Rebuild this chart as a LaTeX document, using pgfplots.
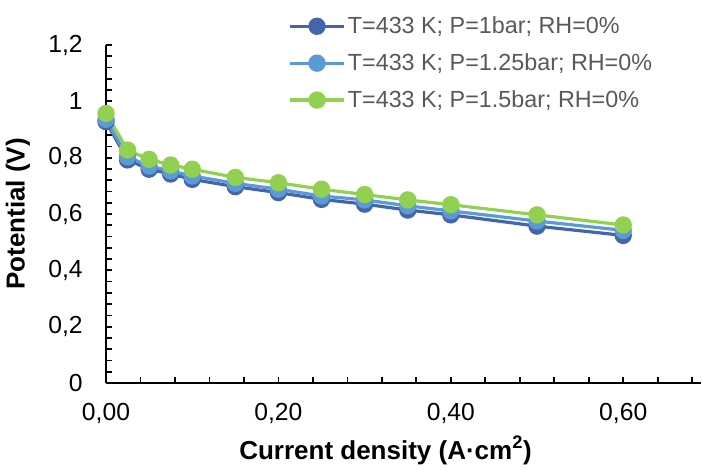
\documentclass[border=0pt]{standalone}
\usepackage{pgfplots}
\pgfplotsset{compat=1.18}
\usepackage{fontspec}
\setmainfont{Liberation Sans}
\definecolor{dblue}{HTML}{4464AD}
\definecolor{lblue}{HTML}{5B9BD5}
\definecolor{lgreen}{HTML}{92D050}
\definecolor{legtext}{HTML}{595959}
\begin{document}
\begin{tikzpicture}
\begin{axis}[
  at={(0,0)}, anchor=south west,
  scale only axis,
  width=446.1pt, height=253.5pt,
  xmin=0, xmax=0.69, ymin=0, ymax=1.2,
  axis x line=bottom, axis y line=left,
  axis line style={-, line width=1.3pt, black},
  xtick={0,0.2,0.4,0.6},
  minor xtick={0.04,0.08,0.12,0.16,0.24,0.28,0.32,0.36,0.44,0.48,0.52,0.56,0.64,0.68},
  ytick={0,0.2,0.4,0.6,0.8,1,1.2},
  minor ytick={0.04,0.08,0.12,0.16,0.24,0.28,0.32,0.36,0.44,0.48,0.52,0.56,0.64,0.68,0.72,0.76,0.84,0.88,0.92,0.96,1.04,1.08,1.12,1.16},
  tick align=inside,
  major tick length=4.5pt, minor tick length=4.5pt,
  tick style={line width=1.3pt, black},
  xticklabel style={/pgf/number format/fixed, /pgf/number format/fixed zerofill, /pgf/number format/precision=2, /pgf/number format/use comma, /pgf/number format/assume math mode=true, yshift=-12pt},
  yticklabel style={/pgf/number format/fixed, /pgf/number format/precision=1, /pgf/number format/use comma, /pgf/number format/assume math mode=true, xshift=-14pt},
  ticklabel style={font=\fontsize{18.5}{22}\selectfont, black},
  xlabel={\textbf{Current density (A·cm\textsuperscript{2})}},
  ylabel={\textbf{Potential (V)}},
  xlabel style={font=\fontsize{19.5}{23}\selectfont, at={(axis description cs:0.47,0)}, anchor=base, yshift=-57pt},
  ylabel style={font=\fontsize{19.5}{23}\selectfont, at={(axis description cs:0,0.5)}, anchor=base, yshift=61pt},
  legend cell align=left,
  legend style={draw=none, fill=none, at={(0.30,1.10)}, anchor=north west,
    font=\fontsize{17.5}{21}\selectfont\color{legtext}, row sep=9.5pt,
    /tikz/every even column/.append style={column sep=2pt}},
  legend image code/.code={\draw[mark repeat=2,mark phase=2] plot coordinates {(0pt,0pt) (20pt,0pt) (40pt,0pt)};},
  every axis plot/.append style={line width=2.4pt, mark=*, mark size=5.3pt},
  clip=false,
]
\addplot[color=dblue, mark options={fill=dblue, draw=dblue}] coordinates {
(0,0.928) (0.025,0.792) (0.05,0.759) (0.075,0.742) (0.1,0.723) (0.15,0.697) (0.2,0.676) (0.25,0.652) (0.3,0.635) (0.35,0.614) (0.4,0.597) (0.5,0.557) (0.6,0.524)};
\addlegendentry{T=433 K; P=1bar; RH=0\%}
\addplot[color=lblue, mark options={fill=lblue, draw=lblue}] coordinates {
(0,0.936) (0.025,0.803) (0.05,0.770) (0.075,0.753) (0.1,0.735) (0.15,0.709) (0.2,0.688) (0.25,0.664) (0.3,0.650) (0.35,0.629) (0.4,0.611) (0.5,0.575) (0.6,0.542)};
\addlegendentry{T=433 K; P=1.25bar; RH=0\%}
\addplot[color=lgreen, mark options={fill=lgreen, draw=lgreen}] coordinates {
(0,0.957) (0.025,0.827) (0.05,0.794) (0.075,0.774) (0.1,0.759) (0.15,0.730) (0.2,0.711) (0.25,0.688) (0.3,0.669) (0.35,0.650) (0.4,0.633) (0.5,0.597) (0.6,0.561)};
\addlegendentry{T=433 K; P=1.5bar; RH=0\%}
\end{axis}
\pgfresetboundingbox
\path (-79.5pt,-64.5pt) rectangle (447pt,287.25pt);
\end{tikzpicture}
\end{document}
